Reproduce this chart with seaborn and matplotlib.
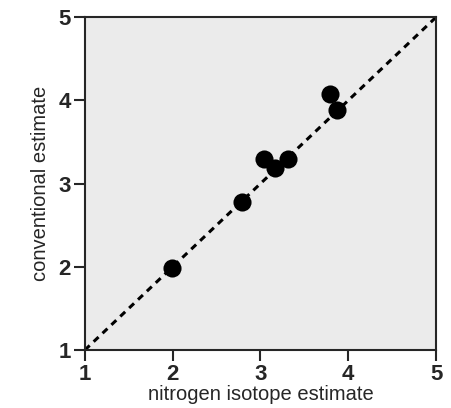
import seaborn as sns
import pandas as pd
import matplotlib.pyplot as plt

nitrogen = [1.99, 2.79, 3.04, 3.16, 3.31, 3.79, 3.87]
conventional = [1.99, 2.78, 3.30, 3.19, 3.30, 4.08, 3.88]
ticks = [1, 2, 3, 4, 5]

data = pd.DataFrame({"nitrogen": nitrogen, "conventional": conventional})

sns.set_style("ticks")
plt.rcParams['font.family'] = ['Liberation Sans', 'DejaVu Sans']

fig = plt.figure(figsize=(4.51, 4.08), dpi=100)
ax = fig.add_axes([0.188, 0.142, 0.779, 0.816])
ax.set_facecolor("#ebebeb")

ax.plot([1, 5], [1, 5], color="black", linestyle=(0, (2.2, 1.8)), linewidth=2.2, zorder=2)
sns.scatterplot(data=data, x="nitrogen", y="conventional", color="black", s=170,
                edgecolor="black", linewidth=0, ax=ax, zorder=3)

ax.set_xlim(1, 5)
ax.set_ylim(1, 5)
ax.set_xticks(ticks)
ax.set_yticks(ticks)
ax.set_xticklabels(ticks, fontsize=16, fontweight="bold")
ax.set_yticklabels(ticks, fontsize=16, fontweight="bold")
ax.tick_params(direction="out", length=8, width=1.5, pad=2)
for s in ax.spines.values():
    s.set_linewidth(1.5)
ax.set_xlabel("nitrogen isotope estimate", fontsize=14.5, labelpad=0)
ax.set_ylabel("conventional estimate", fontsize=14.5, labelpad=6)

fig.savefig("out.png", dpi=100)
